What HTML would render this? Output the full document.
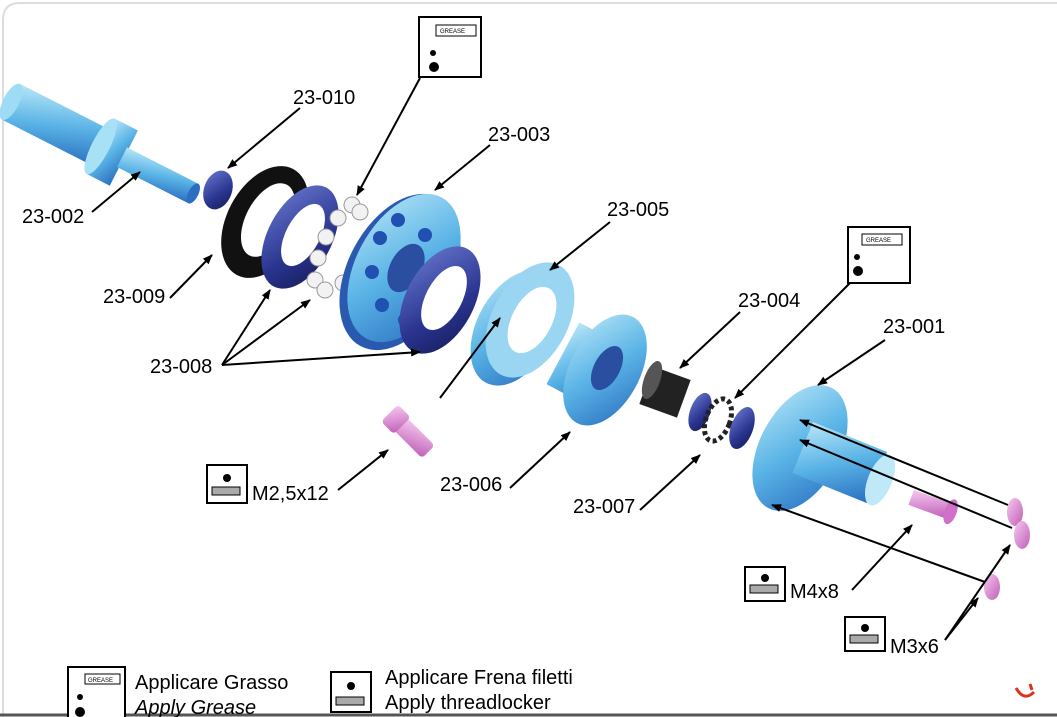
<!DOCTYPE html>
<html><head><meta charset="utf-8"><style>
html,body{margin:0;padding:0;background:#fff;}
svg{display:block;font-family:"Liberation Sans",Arial,sans-serif;}
</style></head><body>
<svg width="1057" height="717" viewBox="0 0 1057 717" xmlns="http://www.w3.org/2000/svg">
<defs>
<linearGradient id="lb" x1="0" y1="0" x2="1" y2="1"><stop offset="0" stop-color="#b8e6f8"/><stop offset="0.5" stop-color="#5ab4e6"/><stop offset="1" stop-color="#2a6fc0"/></linearGradient>
<linearGradient id="db" x1="0" y1="0" x2="1" y2="1"><stop offset="0" stop-color="#6a7ad0"/><stop offset="0.6" stop-color="#2a3590"/><stop offset="1" stop-color="#141a55"/></linearGradient>
<linearGradient id="pk" x1="0" y1="0" x2="1" y2="1"><stop offset="0" stop-color="#f6c8f0"/><stop offset="1" stop-color="#c060b8"/></linearGradient>
<marker id="ah" markerWidth="10" markerHeight="8" refX="9" refY="4" orient="auto" markerUnits="userSpaceOnUse"><path d="M0,0 L10,4 L0,8 z" fill="#000"/></marker>
</defs>
<rect x="0" y="0" width="1057" height="717" fill="#fff"/>
<path d="M3,717 L3,20 Q3,3 20,3 L1057,3" fill="none" stroke="#ddd" stroke-width="2"/>
<line x1="0" y1="715" x2="1057" y2="715" stroke="#555" stroke-width="3"/>

<g transform="translate(12,100) rotate(27)">
<rect x="0" y="-18" width="105" height="40" fill="url(#lb)"/>
<ellipse cx="0" cy="2" rx="8" ry="20" fill="#9ddcf4"/>
<rect x="100" y="-30" width="26" height="62" fill="url(#lb)"/>
<ellipse cx="100" cy="1" rx="9" ry="31" fill="#a8e0f6"/>
<rect x="124" y="-10" width="80" height="22" fill="url(#lb)"/>
<ellipse cx="204" cy="1" rx="5" ry="11" fill="#2a6fc0"/>
</g>
<ellipse cx="218" cy="190" rx="14" ry="20" fill="url(#db)" transform="rotate(20 218 190)"/>
<ellipse cx="265" cy="222" rx="38" ry="60" fill="#111" transform="rotate(28 265 222)"/>
<ellipse cx="268" cy="220" rx="22" ry="40" fill="#fff" transform="rotate(28 268 220)"/>
<ellipse cx="300" cy="237" rx="32" ry="56" fill="url(#db)" transform="rotate(28 300 237)"/>
<ellipse cx="303" cy="235" rx="17" ry="34" fill="#fff" transform="rotate(28 303 235)"/>
<g fill="#f2f2f2" stroke="#999">
<circle cx="352" cy="205" r="8"/><circle cx="338" cy="218" r="8"/><circle cx="326" cy="237" r="8"/><circle cx="318" cy="258" r="8"/><circle cx="315" cy="280" r="8"/><circle cx="325" cy="290" r="8"/><circle cx="343" cy="283" r="8"/><circle cx="360" cy="212" r="8"/>
</g>
<ellipse cx="400" cy="272" rx="52" ry="84" fill="#2a5ab0" transform="rotate(28 400 272)"/>
<ellipse cx="404" cy="268" rx="48" ry="80" fill="url(#lb)" transform="rotate(28 404 268)"/>
<ellipse cx="406" cy="268" rx="16" ry="26" fill="#2a4fa0" transform="rotate(28 406 268)"/>
<g fill="#2050b0"><circle cx="398" cy="220" r="7"/><circle cx="425" cy="235" r="7"/><circle cx="438" cy="265" r="7"/><circle cx="430" cy="300" r="7"/><circle cx="405" cy="320" r="7"/><circle cx="382" cy="305" r="7"/><circle cx="372" cy="272" r="7"/><circle cx="380" cy="238" r="7"/></g>
<ellipse cx="440" cy="300" rx="34" ry="58" fill="url(#db)" transform="rotate(28 440 300)"/>
<ellipse cx="444" cy="298" rx="18" ry="35" fill="#fff" transform="rotate(28 444 298)"/>
<ellipse cx="515" cy="328" rx="38" ry="62" fill="url(#lb)" transform="rotate(28 515 328)"/>
<ellipse cx="530" cy="320" rx="38" ry="62" fill="#9ad6f2" transform="rotate(28 530 320)"/>
<ellipse cx="532" cy="320" rx="20" ry="36" fill="#fff" transform="rotate(28 532 320)"/>
<rect x="560" y="330" width="50" height="70" fill="url(#lb)" transform="rotate(28 585 365)"/>
<ellipse cx="605" cy="370" rx="35" ry="60" fill="url(#lb)" transform="rotate(28 605 370)"/>
<ellipse cx="607" cy="368" rx="13" ry="24" fill="#2a4fa0" transform="rotate(28 607 368)"/>
<rect x="645" y="372" width="40" height="40" fill="#222" transform="rotate(20 665 392)"/>
<ellipse cx="652" cy="380" rx="8" ry="20" fill="#555" transform="rotate(20 652 380)"/>
<ellipse cx="700" cy="412" rx="10" ry="20" fill="url(#db)" transform="rotate(20 700 412)"/>
<ellipse cx="718" cy="420" rx="12" ry="22" fill="none" stroke="#222" stroke-width="5" stroke-dasharray="4 3" transform="rotate(20 718 420)"/>
<ellipse cx="742" cy="428" rx="11" ry="22" fill="url(#db)" transform="rotate(20 742 428)"/>
<ellipse cx="800" cy="448" rx="40" ry="68" fill="url(#lb)" transform="rotate(28 800 448)"/>
<rect x="800" y="435" width="80" height="55" fill="url(#lb)" transform="rotate(22 840 462)"/>
<ellipse cx="880" cy="480" rx="12" ry="27" fill="#bfe8f8" transform="rotate(22 880 480)"/>
<g transform="rotate(45 410 435)"><rect x="395" y="425" width="40" height="18" rx="4" fill="url(#pk)"/><rect x="380" y="422" width="18" height="24" rx="4" fill="url(#pk)"/></g>
<g transform="rotate(20 935 505)"><rect x="910" y="498" width="40" height="16" fill="url(#pk)"/><ellipse cx="952" cy="506" rx="6" ry="13" fill="#d070c8"/></g>
<ellipse cx="1015" cy="512" rx="8" ry="14" fill="url(#pk)"/><ellipse cx="1022" cy="535" rx="8" ry="14" fill="url(#pk)"/><ellipse cx="992" cy="587" rx="8" ry="13" fill="url(#pk)"/>

<g stroke="#000" stroke-width="2" fill="none" marker-end="url(#ah)">
<line x1="300" y1="108" x2="228" y2="168"/>
<line x1="420" y1="78" x2="357" y2="195"/>
<line x1="490" y1="145" x2="435" y2="190"/>
<line x1="92" y1="212" x2="140" y2="172"/>
<line x1="170" y1="298" x2="212" y2="255"/>
<line x1="222" y1="365" x2="270" y2="290"/>
<line x1="222" y1="365" x2="310" y2="300"/>
<line x1="222" y1="365" x2="420" y2="352"/>
<line x1="610" y1="222" x2="550" y2="270"/>
<line x1="740" y1="312" x2="680" y2="368"/>
<line x1="850" y1="283" x2="735" y2="398"/>
<line x1="885" y1="340" x2="818" y2="385"/>
<line x1="338" y1="490" x2="388" y2="450"/>
<line x1="440" y1="398" x2="500" y2="318"/>
<line x1="510" y1="488" x2="570" y2="432"/>
<line x1="640" y1="510" x2="700" y2="455"/>
<line x1="852" y1="590" x2="912" y2="525"/>
<line x1="945" y1="640" x2="1010" y2="545"/>
<line x1="945" y1="640" x2="978" y2="598"/>
<line x1="1008" y1="505" x2="800" y2="420"/>
<line x1="1012" y1="528" x2="800" y2="440"/>
<line x1="985" y1="582" x2="772" y2="505"/>
</g>

<g stroke="#000" stroke-width="2" fill="#fff">
<rect x="419" y="17" width="62" height="60"/>
<rect x="848" y="227" width="62" height="56"/>
<rect x="207" y="465" width="40" height="38"/>
<rect x="745" y="567" width="40" height="34"/>
<rect x="845" y="617" width="40" height="34"/>
<rect x="68" y="667" width="57" height="52"/>
<rect x="331" y="672" width="40" height="40"/>
</g>
<g font-size="6" fill="#000"><rect x="436" y="25" width="40" height="11" fill="#fff" stroke="#000"/><text x="440" y="33">GREASE</text>
<rect x="862" y="234" width="40" height="11" fill="#fff" stroke="#000"/><text x="866" y="242">GREASE</text>
<rect x="85" y="674" width="35" height="10" fill="#fff" stroke="#000"/><text x="88" y="682">GREASE</text></g>
<g fill="#000"><circle cx="433" cy="53" r="3"/><circle cx="434" cy="67" r="5"/><circle cx="857" cy="257" r="3"/><circle cx="858" cy="271" r="5"/><circle cx="80" cy="697" r="3"/><circle cx="80" cy="712" r="5"/>
<circle cx="227" cy="478" r="4"/><circle cx="765" cy="578" r="4"/><circle cx="865" cy="628" r="4"/><circle cx="351" cy="686" r="4"/></g>
<g fill="#aaa" stroke="#000"><rect x="212" y="487" width="28" height="8"/><rect x="750" y="585" width="28" height="8"/><rect x="850" y="635" width="28" height="8"/><rect x="336" y="697" width="28" height="8"/></g>

<g font-size="20" fill="#000">
<text x="293" y="104">23-010</text>
<text x="488" y="141">23-003</text>
<text x="22" y="223">23-002</text>
<text x="103" y="303">23-009</text>
<text x="150" y="373">23-008</text>
<text x="607" y="216">23-005</text>
<text x="738" y="307">23-004</text>
<text x="883" y="333">23-001</text>
<text x="252" y="500">M2,5x12</text>
<text x="440" y="491">23-006</text>
<text x="573" y="513">23-007</text>
<text x="790" y="598">M4x8</text>
<text x="890" y="653">M3x6</text>
<text x="135" y="689">Applicare Grasso</text>
<text x="135" y="714" font-style="italic">Apply Grease</text>
<text x="385" y="684">Applicare Frena filetti</text>
<text x="385" y="709">Apply threadlocker</text>
</g>
<path d="M1016,688 Q1024,702 1034,692 M1030,684 L1032,690" stroke="#e03020" stroke-width="3" fill="none"/>
</svg>
</body></html>
